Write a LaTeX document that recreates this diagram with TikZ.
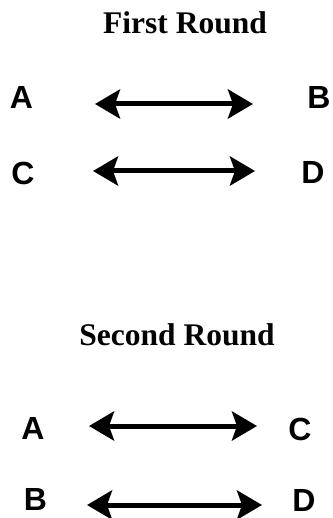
\documentclass[tikz,border=0pt]{standalone}
\usepackage{fontspec}
\setmainfont{Liberation Serif}
\newfontfamily\lettfont{Liberation Sans}
\usetikzlibrary{arrows.meta}
\begin{document}
\begin{tikzpicture}[x=1pt,y=-1pt,
  title/.style={font=\fontsize{31.5}{36}\selectfont\bfseries, inner sep=0pt},
  letter/.style={font=\lettfont\fontsize{32}{36}\selectfont\bfseries, inner sep=0pt},
  dblarrow/.style={line width=5pt, {Stealth[length=25pt,width=29pt,inset=5pt]}-{Stealth[length=25pt,width=29pt,inset=5pt]}}]
\useasboundingbox (0,0) rectangle (332,518);
% First round
\node[title] (t1) at (185,23) {First Round};
\node[letter] (a1) at (21.5,97) {A};
\node[letter] (b1) at (319,97) {B};
\node[letter] (c1) at (23,173) {C};
\node[letter] (d1) at (313,172) {D};
\coordinate (ab1l) at (95,104);
\coordinate (ab1r) at (253,104);
\coordinate (cd1l) at (93,171);
\coordinate (cd1r) at (255,171);
\draw[dblarrow] (ab1l) -- (ab1r);
\draw[dblarrow] (cd1l) -- (cd1r);
% Second round
\node[title] (t2) at (177,335) {Second Round};
\node[letter] (a2) at (33,428) {A};
\node[letter] (c2) at (300,429) {C};
\node[letter] (b2) at (35.5,499) {B};
\node[letter] (d2) at (304,500) {D};
\coordinate (ac2l) at (89,426);
\coordinate (ac2r) at (257,426);
\coordinate (bd2l) at (87,505);
\coordinate (bd2r) at (262,505);
\draw[dblarrow] (ac2l) -- (ac2r);
\draw[dblarrow] (bd2l) -- (bd2r);
\end{tikzpicture}
\end{document}
